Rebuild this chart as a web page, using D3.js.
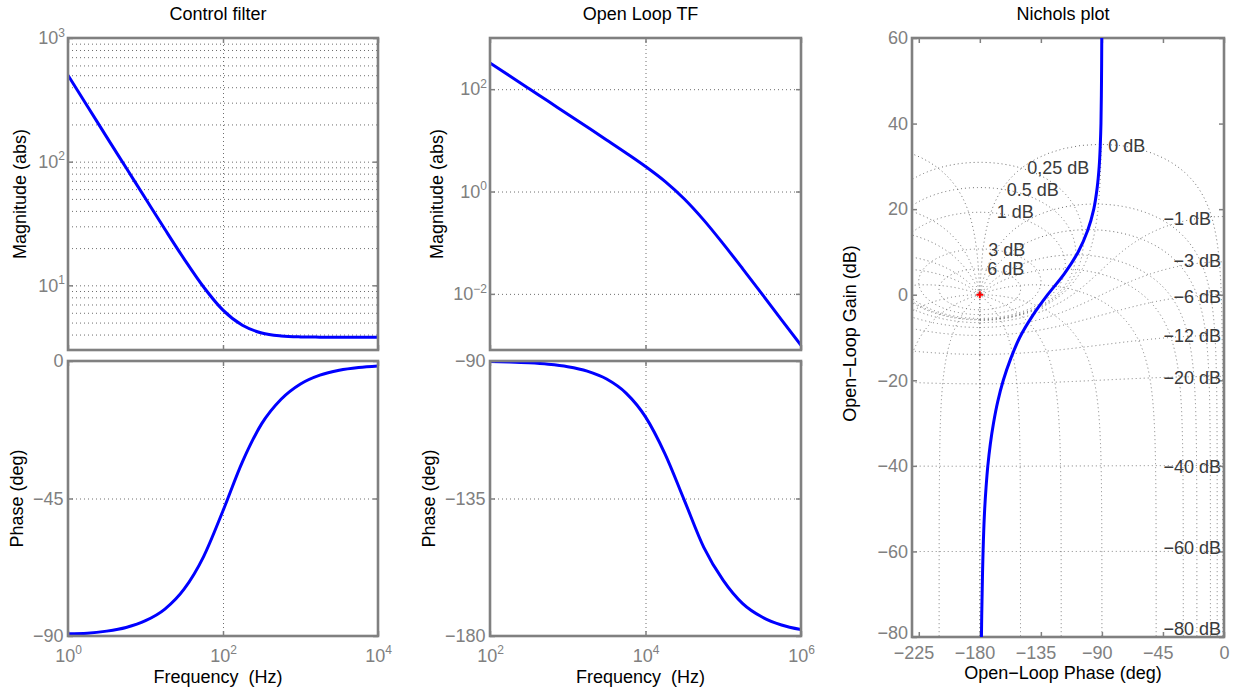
<!DOCTYPE html>
<html>
<head>
<meta charset="utf-8">
<script src="https://cdn.jsdelivr.net/npm/d3@7"></script>
<style>
body { margin: 0; background: #fff; overflow: hidden; }
svg { font-family: "Liberation Sans", Arial, Helvetica, sans-serif; }
</style>
</head>
<body>
<script>
// values
var ctrlFreq  = [1, 1.78, 3.16, 5.62, 10, 17.8, 31.6, 56.2, 100, 178, 316, 562, 1000, 1780, 3160, 5620, 10000];
var ctrlMag   = [500, 281, 158, 89.2, 50.3, 28.4, 16.3, 9.7, 6.3, 4.75, 4.12, 3.9, 3.83, 3.81, 3.8, 3.8, 3.8];
var ctrlPhase = [-89.3, -89.1, -88.4, -87.2, -85.0, -81.2, -74.6, -64.0, -49.0, -33.0, -20.5, -12.5, -7.5, -4.6, -3.0, -2.1, -1.6];

var olFreq  = [100, 178, 316, 562, 1000, 1780, 3160, 5620, 1e4, 1.78e4, 3.16e4, 5.62e4, 1e5, 1.78e5, 3.16e5, 5.62e5, 1e6];
var olMag   = [325, 183, 103, 57.8, 32.5, 18.2, 10.2, 5.68, 3.09, 1.58, 0.714, 0.276, 0.0948, 0.0309, 0.0099, 0.0031, 0.00099];
var olPhase = [-90.2, -90.35, -90.6, -91.05, -91.85, -93.3, -95.9, -100.5, -108.3, -120.4, -135.6, -151.0, -161.8, -169.4, -173.8, -176.4, -177.9];

var nicGain  = [60, 50, 40, 35, 30, 25, 20, 15, 10, 5, 0, -5, -10, -15, -20, -25, -30, -35, -40, -45, -50, -55, -60, -65, -70, -75, -80];
var nicPhase = [-90.1, -90.3, -90.7, -91.2, -92.0, -93.5, -96.0, -100.5, -107.5, -117.5, -130.0, -141.3, -150.6, -157.3, -162.7,
                -166.8, -169.9, -172.3, -174.1, -175.4, -176.4, -177.1, -177.6, -178.0, -178.3, -178.6, -178.8];

// nichols grid levels (closed loop gain in dB, closed loop phase in deg)
var mLevels = [6, 3, 1, 0.5, 0.25, 0, -1, -3, -6, -12, -20, -40, -60, -80];
var nLevels = [-1, -5, -10, -20, -30, -50, -90, -120, -150, -180];
var mLabels = ["6 dB", "3 dB", "1 dB", "0.5 dB", "0,25 dB", "0 dB", "\u22121 dB", "\u22123 dB", "\u22126 dB",
               "\u221212 dB", "\u221220 dB", "\u221240 dB", "\u221260 dB", "\u221280 dB"];

// where the grid labels sit (phase, gain, anchor)
var labelSpots = [
  [-174.5, 6.0, "start"], [-173.8, 10.6, "start"], [-167.6, 19.3, "start"], [-160.2, 24.5, "start"],
  [-145.0, 29.6, "start"], [-85.3, 34.9, "start"], [-9.6, 17.7, "end"], [-2.2, 8.0, "end"],
  [-2.2, -0.4, "end"], [-2.2, -9.6, "end"], [-2.2, -19.5, "end"], [-2.2, -40.1, "end"],
  [-2.2, -59.2, "end"], [-2.2, -78.1, "end"]
];

var FS = 18;
var GRAY = "#808080";

var svg = d3.select("body").append("svg")
    .attr("width", 1235)
    .attr("height", 688);
var defs = svg.append("defs");
var nclip = 0;

function addClip(l, t, w, h) {
    var id = "clip" + (nclip++);
    defs.append("clipPath").attr("id", id)
        .append("rect").attr("x", l).attr("y", t).attr("width", w).attr("height", h);
    return "url(#" + id + ")";
}

function minus(v) {
    return v < 0 ? "\u2212" + (-v) : "" + v;
}

// 10^n labels
function powLabels(sel) {
    sel.each(function (d) {
        var e = Math.round(Math.log10(d));
        var t = d3.select(this).text(null);
        t.append("tspan").text("10");
        t.append("tspan").attr("dy", "-0.62em").attr("font-size", "12px").text(minus(e));
    });
}

function styleAxis(a) {
    a.select(".domain").remove();
    a.attr("font-family", null).attr("font-size", FS);
    a.selectAll(".tick line").attr("stroke", GRAY).attr("stroke-width", 1.5);
    a.selectAll(".tick text").attr("fill", GRAY);
}

function gridStyle(sel) {
    sel.select(".domain").remove();
    sel.selectAll(".tick line")
        .attr("stroke", "#6e6e6e")
        .attr("stroke-width", 1)
        .attr("stroke-dasharray", "1,3");
}

function panel(p) {
    var g = svg.append("g");
    var w = p.right - p.left, h = p.bottom - p.top;
    var x = d3.scaleLog().domain(p.xDomain).range([p.left, p.right]);
    var y = (p.yLog ? d3.scaleLog() : d3.scaleLinear()).domain(p.yDomain).range([p.bottom, p.top]);

    // grid
    g.append("g").attr("transform", "translate(0," + p.bottom + ")")
        .call(d3.axisBottom(x).tickValues(p.xGrid).tickSize(-h).tickFormat(""))
        .call(gridStyle);
    g.append("g").attr("transform", "translate(" + p.left + ",0)")
        .call(d3.axisLeft(y).tickValues(p.yGrid).tickSize(-w).tickFormat(""))
        .call(gridStyle);

    // curve
    var line = d3.line()
        .x(function (d) { return x(d[0]); })
        .y(function (d) { return y(d[1]); })
        .curve(d3.curveMonotoneX);
    g.append("path")
        .datum(p.xs.map(function (f, i) { return [f, p.ys[i]]; }))
        .attr("clip-path", addClip(p.left, p.top, w, h))
        .attr("d", line)
        .attr("fill", "none")
        .attr("stroke", "#0000ff")
        .attr("stroke-width", 3);

    // ticks on all sides
    var ax = g.append("g").attr("transform", "translate(" + p.left + ",0)")
        .call(d3.axisLeft(y).tickValues(p.yTicks).tickSize(-5).tickPadding(p.yPad)
            .tickFormat(p.yLog ? function (d) { return d; } : minus));
    styleAxis(ax);
    if (p.yLog) ax.selectAll(".tick text").call(powLabels);
    styleAxis(g.append("g").attr("transform", "translate(" + p.right + ",0)")
        .call(d3.axisRight(y).tickValues(p.yTicks).tickSize(-5).tickFormat("")));
    var bx = g.append("g").attr("transform", "translate(0," + p.bottom + ")")
        .call(d3.axisBottom(x).tickValues(p.xTicks).tickSize(-5).tickPadding(13)
            .tickFormat(p.xLabels ? function (d) { return d; } : ""));
    styleAxis(bx);
    if (p.xLabels) bx.selectAll(".tick text").call(powLabels);
    styleAxis(g.append("g").attr("transform", "translate(0," + p.top + ")")
        .call(d3.axisTop(x).tickValues(p.xTicks).tickSize(-5).tickFormat("")));

    g.append("rect")
        .attr("x", p.left).attr("y", p.top).attr("width", w).attr("height", h)
        .attr("fill", "none").attr("stroke", GRAY).attr("stroke-width", 2.6);

    g.append("text")
        .attr("transform", "translate(" + p.ylabelX + "," + (p.top + h / 2) + ") rotate(-90)")
        .attr("text-anchor", "middle").attr("font-size", FS)
        .text(p.ylabel);
    if (p.title) {
        g.append("text")
            .attr("x", p.left + w / 2 - 5).attr("y", 19.5)
            .attr("text-anchor", "middle").attr("font-size", FS)
            .text(p.title);
    }
    if (p.xLabels) {
        g.append("text")
            .attr("x", p.left + w / 2 - 5).attr("y", 682.5)
            .attr("text-anchor", "middle").attr("font-size", FS)
            .style("white-space", "pre")
            .text("Frequency  (Hz)");
    }
}

// minor log grid for the control filter magnitude
var ctrlMinor = [];
[1, 10, 100].forEach(function (dec) {
    d3.range(1, 10).forEach(function (k) { if (k * dec >= 3) ctrlMinor.push(k * dec); });
});
ctrlMinor.push(1000);

panel({
    left: 68, right: 378, top: 38, bottom: 350,
    xDomain: [1, 1e4], yDomain: [3, 1000], yLog: true,
    xGrid: [100], yGrid: ctrlMinor, xTicks: [1, 100, 1e4], yTicks: [10, 100, 1000],
    yPad: 3, xLabels: false, xs: ctrlFreq, ys: ctrlMag,
    ylabel: "Magnitude (abs)", ylabelX: 26, title: "Control filter"
});
panel({
    left: 68, right: 378, top: 361, bottom: 636,
    xDomain: [1, 1e4], yDomain: [-90, 0], yLog: false,
    xGrid: [100], yGrid: [-90, -45, 0], xTicks: [1, 100, 1e4], yTicks: [-90, -45, 0],
    yPad: 4.5, xLabels: true, xs: ctrlFreq, ys: ctrlPhase,
    ylabel: "Phase (deg)", ylabelX: 23
});
panel({
    left: 490, right: 801, top: 38, bottom: 350,
    xDomain: [100, 1e6], yDomain: [8e-4, 1000], yLog: true,
    xGrid: [1e4], yGrid: [0.01, 1, 100], xTicks: [100, 1e4, 1e6], yTicks: [0.01, 1, 100],
    yPad: 3, xLabels: false, xs: olFreq, ys: olMag,
    ylabel: "Magnitude (abs)", ylabelX: 443, title: "Open Loop TF"
});
panel({
    left: 490, right: 801, top: 361, bottom: 636,
    xDomain: [100, 1e6], yDomain: [-180, -90], yLog: false,
    xGrid: [1e4], yGrid: [-180, -135, -90], xTicks: [100, 1e4, 1e6], yTicks: [-180, -135, -90],
    yPad: 4.5, xLabels: true, xs: olFreq, ys: olPhase,
    ylabel: "Phase (deg)", ylabelX: 435
});

// ---------------- Nichols plot ----------------
var nL = 912, nR = 1224, nT = 38, nB = 637;
var px = d3.scaleLinear().domain([-230, 0]).range([nL, nR]);
var py = d3.scaleLinear().domain([-80, 60]).range([nB, nT]);
var ng = svg.append("g");
var GMAX = 35.3;

// open loop point (phase deg, gain dB) for closed loop T = tr + j ti
function openLoop(tr, ti) {
    var dr = 1 - tr, di = -ti, d2 = dr * dr + di * di;
    var lr = (tr * dr + ti * di) / d2, li = (ti * dr - tr * di) / d2;
    var ph = Math.atan2(li, lr) * 180 / Math.PI;
    if (ph > 0) ph -= 360;
    return [ph, 10 * Math.log10(lr * lr + li * li)];
}

function breakJumps(pts) {
    var out = [];
    pts.forEach(function (p, i) {
        if (p && p[1] > GMAX) p = null;
        if (p && i > 0 && out.length && out[out.length - 1] && Math.abs(p[0] - out[out.length - 1][0]) > 180) out.push(null);
        out.push(p);
    });
    return out;
}

var contours = [];
mLevels.forEach(function (mdb) {
    var M = Math.pow(10, mdb / 20), pts = [];
    for (var i = 0; i <= 7200; i++) {
        var th = (-180 + i * 0.05) * Math.PI / 180;
        pts.push(openLoop(M * Math.cos(th), M * Math.sin(th)));
    }
    contours.push(breakJumps(pts));
});
nLevels.forEach(function (n) {
    var a = n * Math.PI / 180, pts = [], mirror = [];
    for (var k = -6; k <= 6; k += 0.002) {
        var m = Math.pow(10, k);
        var p = openLoop(m * Math.cos(a), m * Math.sin(a));
        pts.push(p);
        mirror.push([-360 - p[0], p[1]]);
    }
    contours.push(breakJumps(pts));
    contours.push(breakJumps(mirror));
});

var gline = d3.line()
    .defined(function (d) { return d; })
    .x(function (d) { return px(d[0]); })
    .y(function (d) { return py(d[1]); });

var nclipUrl = addClip(nL, nT, nR - nL, nB - nT);
ng.append("g").attr("clip-path", nclipUrl)
    .selectAll("path")
    .data(contours)
    .enter()
    .append("path")
    .attr("d", gline)
    .attr("fill", "none")
    .attr("stroke", "#6e6e6e")
    .attr("stroke-width", 1)
    .attr("stroke-dasharray", "1,3");

// ticks
var nyAx = ng.append("g").attr("transform", "translate(" + nL + ",0)")
    .call(d3.axisLeft(py).tickValues(d3.range(-80, 61, 20)).tickSize(-5).tickPadding(4).tickFormat(minus));
styleAxis(nyAx);
// lift the bottom label a little so it clears the phase labels
nyAx.selectAll(".tick text").filter(function (d) { return d === -80; }).attr("y", -4);
styleAxis(ng.append("g").attr("transform", "translate(" + nR + ",0)")
    .call(d3.axisRight(py).tickValues(d3.range(-80, 61, 20)).tickSize(-5).tickFormat("")));
var nxAx = ng.append("g").attr("transform", "translate(0," + nB + ")")
    .call(d3.axisBottom(px).tickValues([-225, -180, -135, -90, -45, 0]).tickSize(-5).tickPadding(9).tickFormat(minus));
styleAxis(nxAx);
// centre the digits on the tick, the minus sign hangs to the left
nxAx.selectAll(".tick text").filter(function (d) { return d < 0; })
    .attr("text-anchor", "end")
    .attr("x", function (d) { return String(-d).length * 0.556 * FS / 2; });
styleAxis(ng.append("g").attr("transform", "translate(0," + nT + ")")
    .call(d3.axisTop(px).tickValues([-225, -180, -135, -90, -45, 0]).tickSize(-5).tickFormat("")));

ng.append("rect")
    .attr("x", nL).attr("y", nT).attr("width", nR - nL).attr("height", nB - nT)
    .attr("fill", "none").attr("stroke", GRAY).attr("stroke-width", 2.6);

// grid labels
ng.selectAll(".mlab")
    .data(labelSpots)
    .enter()
    .append("text")
    .attr("class", "mlab")
    .attr("x", function (d) { return px(d[0]); })
    .attr("y", function (d) { return py(d[1]); })
    .attr("dy", "0.35em")
    .attr("text-anchor", function (d) { return d[2]; })
    .attr("font-size", FS)
    .attr("fill", "#3a3a3a")
    .text(function (d, i) { return mLabels[i]; });

// open loop response
ng.append("path")
    .datum(nicGain.map(function (gdb, i) { return [nicPhase[i], gdb]; }))
    .attr("clip-path", nclipUrl)
    .attr("d", d3.line()
        .x(function (d) { return px(d[0]); })
        .y(function (d) { return py(d[1]); })
        .curve(d3.curveCatmullRom.alpha(0.5)))
    .attr("fill", "none")
    .attr("stroke", "#0000ff")
    .attr("stroke-width", 3);

// critical point
var cx = px(-180), cy = py(0);
ng.append("path")
    .attr("d", "M" + (cx - 3.5) + "," + cy + "H" + (cx + 3.5) + "M" + cx + "," + (cy - 3.5) + "V" + (cy + 3.5))
    .attr("stroke", "#ff0000")
    .attr("stroke-width", 2);

ng.append("text")
    .attr("x", (nL + nR) / 2 - 5).attr("y", 19.5)
    .attr("text-anchor", "middle").attr("font-size", FS)
    .text("Nichols plot");
ng.append("text")
    .attr("x", (nL + nR) / 2 - 5).attr("y", 679)
    .attr("text-anchor", "middle").attr("font-size", FS)
    .text("Open\u2212Loop Phase (deg)");
ng.append("text")
    .attr("transform", "translate(856," + ((nT + nB) / 2 - 4) + ") rotate(-90)")
    .attr("text-anchor", "middle").attr("font-size", FS)
    .text("Open\u2212Loop Gain (dB)");
</script>
</body>
</html>
